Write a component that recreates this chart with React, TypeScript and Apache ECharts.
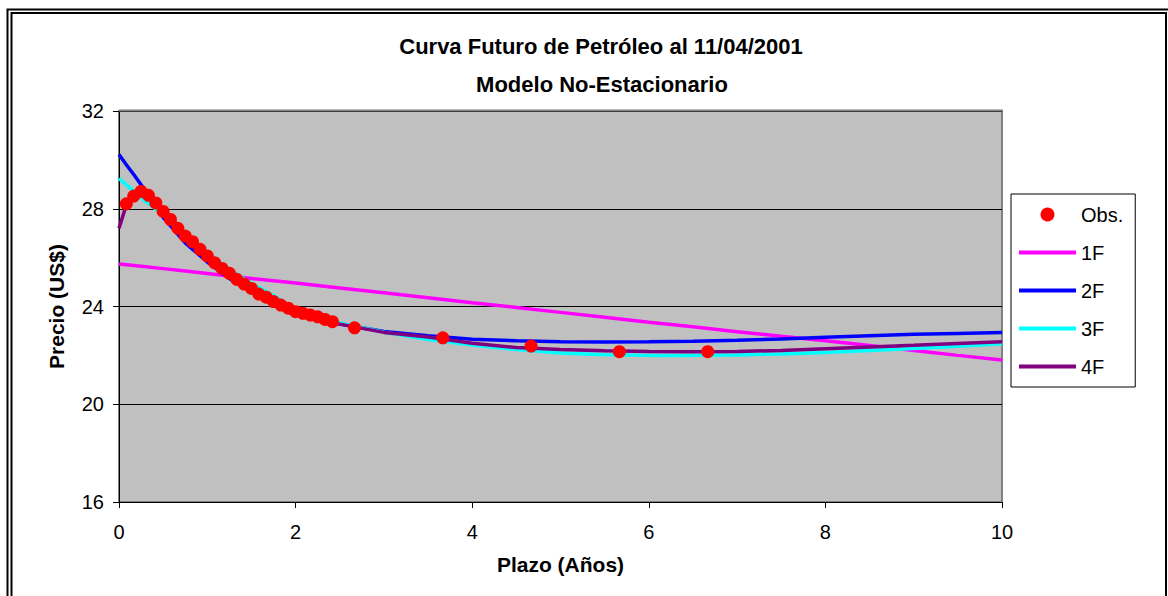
import React, { useEffect, useRef } from "react";
import * as echarts from "echarts";

const FONT = "'Liberation Sans', Arial, sans-serif";

const chartTitle = "Curva Futuro de Petróleo al 11/04/2001";
const chartSubtitle = "Modelo No-Estacionario";
const xAxisName = "Plazo (Años)";
const yAxisName = "Precio (US$)";
const seriesNames = ["Obs.", "1F", "2F", "3F", "4F"];
const seriesColors = ["#FF0000", "#FF00FF", "#0000FF", "#00FFFF", "#800080"];

// Observed futures (plazo in years, price in US$)
const obsPlazo = [
  0.083, 0.167, 0.25, 0.333, 0.417, 0.5, 0.583, 0.667, 0.75, 0.833, 0.917, 1.0,
  1.083, 1.167, 1.25, 1.333, 1.417, 1.5, 1.583, 1.667, 1.75, 1.833, 1.917, 2.0,
  2.083, 2.167, 2.25, 2.333, 2.417, 2.667, 3.667, 4.667, 5.667, 6.667,
];
const obsPrecio = [
  28.2, 28.52, 28.71, 28.55, 28.24, 27.89, 27.56, 27.2, 26.88, 26.65, 26.34, 26.07,
  25.79, 25.56, 25.36, 25.11, 24.92, 24.74, 24.51, 24.38, 24.2, 24.06, 23.93, 23.79,
  23.72, 23.65, 23.58, 23.47, 23.38, 23.13, 22.72, 22.38, 22.15, 22.15,
];

// Model curves, sampled at these horizons (years)
const plazoCurva = [
  0, 0.083, 0.167, 0.25, 0.5, 0.75, 1, 1.25, 1.5, 1.75, 2, 2.5, 3, 3.5, 4, 4.5,
  5, 5.5, 6, 6.5, 7, 7.5, 8, 8.5, 9, 9.5, 10,
];
const curva1F = [
  25.74, 25.71, 25.68, 25.65, 25.55, 25.45, 25.35, 25.25, 25.15, 25.05, 24.96,
  24.76, 24.56, 24.36, 24.15, 23.96, 23.76, 23.56, 23.36, 23.17, 22.97, 22.78,
  22.6, 22.4, 22.2, 22.0, 21.81,
];
const curva2F = [
  30.22, 29.8, 29.4, 28.98, 27.65, 26.6, 25.82, 25.15, 24.6, 24.15, 23.78,
  23.28, 22.98, 22.8, 22.66, 22.6, 22.56, 22.55, 22.56, 22.58, 22.62, 22.67,
  22.74, 22.8, 22.86, 22.9, 22.94,
];
const curva3F = [
  29.24, 28.98, 28.72, 28.45, 27.75, 26.95, 26.2, 25.52, 24.95, 24.45, 23.88,
  23.33, 22.95, 22.65, 22.42, 22.24, 22.1, 22.03, 22.0, 22.0, 22.02, 22.06,
  22.12, 22.2, 22.28, 22.37, 22.48,
];
const curva4F = [
  27.2, 28.15, 28.55, 28.65, 28.0, 26.95, 26.1, 25.42, 24.82, 24.33, 23.9,
  23.28, 22.94, 22.75, 22.5, 22.32, 22.24, 22.19, 22.16, 22.15, 22.16, 22.2,
  22.27, 22.34, 22.41, 22.49, 22.56,
];

export default function App() {
  const ref = useRef<HTMLDivElement>(null);

  useEffect(() => {
    if (!ref.current) return;
    const chart = echarts.init(ref.current, null, { renderer: "svg" });
    const pairs = (ys: number[]) => plazoCurva.map((x, i) => [x, ys[i]]);
    const curves = [curva1F, curva2F, curva3F, curva4F];

    const lineSeries = curves.map((ys, k) => ({
      name: seriesNames[k + 1],
      type: "line",
      data: pairs(ys),
      symbol: "none",
      showSymbol: false,
      lineStyle: { color: seriesColors[k + 1], width: 3.5 },
      itemStyle: { color: seriesColors[k + 1] },
      z: 3 + k,
    }));

    const legendData = seriesNames.map((n, i) =>
      i === 0 ? { name: n } : { name: n, itemStyle: { opacity: 0 }, lineStyle: { width: 4 } }
    );

    chart.setOption({
      animation: false,
      backgroundColor: "#ffffff",
      textStyle: { fontFamily: FONT },
      title: [
        {
          text: chartTitle,
          left: 601,
          top: 35,
          padding: 0,
          textAlign: "center",
          textStyle: { fontFamily: FONT, fontSize: 22, fontWeight: "bold", color: "#000", lineHeight: 22 },
        },
        {
          text: chartSubtitle,
          left: 602,
          top: 73,
          padding: 0,
          textAlign: "center",
          textStyle: { fontFamily: FONT, fontSize: 22, fontWeight: "bold", color: "#000", lineHeight: 22 },
        },
      ],
      grid: {
        left: 119,
        top: 111,
        width: 883,
        height: 391,
        show: true,
        backgroundColor: "#C0C0C0",
        borderColor: "#808080",
        borderWidth: 2,
      },
      xAxis: {
        type: "value",
        min: 0,
        max: 10,
        interval: 2,
        name: xAxisName,
        nameLocation: "middle",
        nameGap: 52,
        nameTextStyle: { fontFamily: FONT, fontSize: 21, fontWeight: "bold", color: "#000" },
        axisLine: { show: true, onZero: false, lineStyle: { color: "#000", width: 1 } },
        axisTick: { show: true, length: 6, lineStyle: { color: "#000" } },
        axisLabel: { fontFamily: FONT, fontSize: 20, color: "#000", margin: 20 },
        splitLine: { show: false },
      },
      yAxis: {
        type: "value",
        min: 16,
        max: 32,
        interval: 4,
        name: yAxisName,
        nameLocation: "middle",
        nameGap: 52,
        nameTextStyle: { fontFamily: FONT, fontSize: 21, fontWeight: "bold", color: "#000" },
        axisLine: { show: true, onZero: false, lineStyle: { color: "#000", width: 1 } },
        axisTick: { show: true, length: 6, lineStyle: { color: "#000" } },
        axisLabel: { fontFamily: FONT, fontSize: 20, color: "#000", margin: 15 },
        splitLine: { show: true, lineStyle: { color: "#000", width: 1 } },
      },
      legend: {
        orient: "vertical",
        left: 1011,
        top: 194,
        padding: [10, 12, 10, 6],
        itemGap: 17,
        itemWidth: 57,
        itemHeight: 14,
        backgroundColor: "#ffffff",
        borderColor: "#000",
        borderWidth: 1,
        selectedMode: false,
        textStyle: { fontFamily: FONT, fontSize: 20, color: "#000", lineHeight: 21 },
        data: legendData,
      },
      graphic: [
        {
          type: "rect",
          silent: true,
          z: 100,
          shape: { x: 7.5, y: 9.5, width: 1163, height: 620 },
          style: { fill: "none", stroke: "#000", lineWidth: 2 },
        },
        {
          type: "rect",
          silent: true,
          z: 100,
          shape: { x: 11.5, y: 13, width: 1154.5, height: 620 },
          style: { fill: "none", stroke: "#000", lineWidth: 2 },
        },
        {
          type: "line",
          silent: true,
          z: 100,
          shape: { x1: 119, y1: 110.5, x2: 1003, y2: 110.5 },
          style: { stroke: "#808080", lineWidth: 2 },
        },
      ],
      series: [
        ...lineSeries,
        {
          name: seriesNames[0],
          type: "scatter",
          data: obsPlazo.map((x, i) => [x, obsPrecio[i]]),
          symbol: "circle",
          symbolSize: 13,
          itemStyle: { color: seriesColors[0], opacity: 1 },
          z: 10,
        },
      ],
    });

    return () => chart.dispose();
  }, []);

  return (
    <div
      ref={ref}
      style={{ position: "fixed", left: 0, top: 0, width: 1168, height: 596 }}
    />
  );
}
